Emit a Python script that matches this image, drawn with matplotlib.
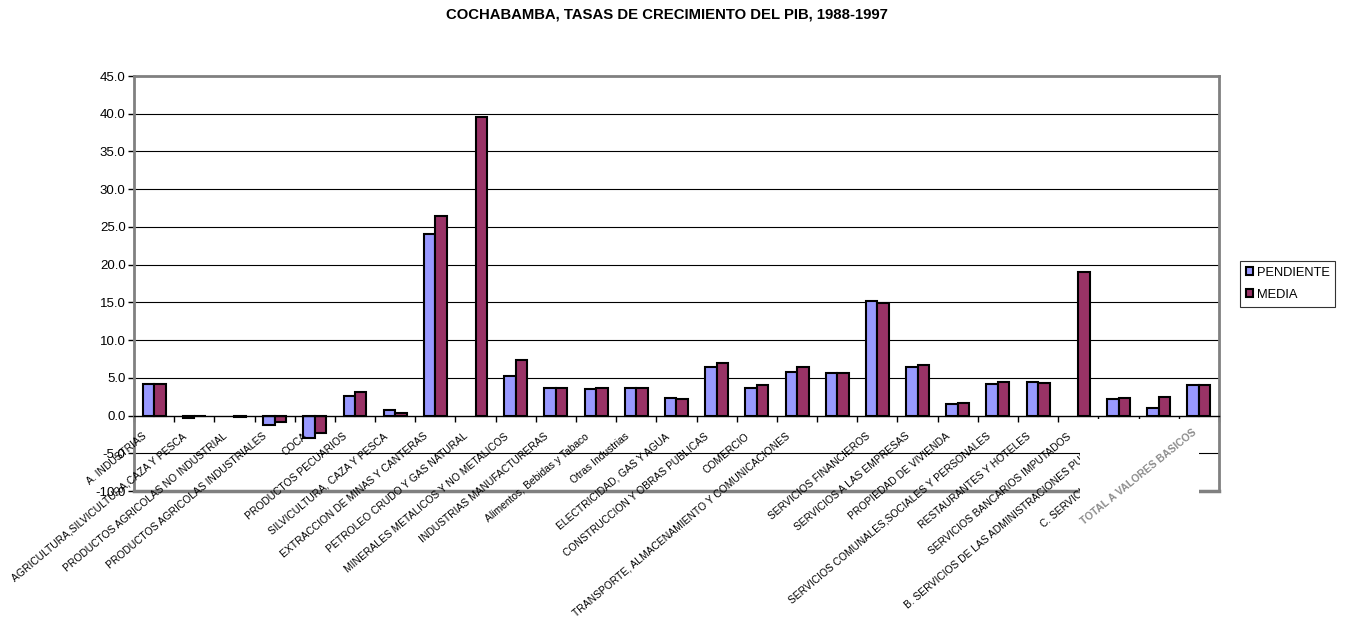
import matplotlib
matplotlib.use("Agg")
import matplotlib.pyplot as plt
from matplotlib.patches import Rectangle, Patch
import numpy as np

plt.rcParams['font.family'] = ['Liberation Sans', 'DejaVu Sans']

# Sectors (x categories); one category has no label in the source
categorias = [
    "A. INDUSTRIAS",
    "AGRICULTURA,SILVICULTURA,CAZA Y PESCA",
    "PRODUCTOS AGRICOLAS NO INDUSTRIAL",
    "PRODUCTOS AGRICOLAS INDUSTRIALES",
    "COCA",
    "PRODUCTOS PECUARIOS",
    "SILVICULTURA, CAZA Y PESCA",
    "EXTRACCION DE MINAS Y CANTERAS",
    "PETROLEO CRUDO Y GAS NATURAL",
    "MINERALES METALICOS Y NO METALICOS",
    "INDUSTRIAS MANUFACTURERAS",
    "Alimentos, Bebidas y Tabaco",
    "Otras Industrias",
    "ELECTRICIDAD, GAS Y AGUA",
    "CONSTRUCCION Y OBRAS PUBLICAS",
    "COMERCIO",
    "TRANSPORTE, ALMACENAMIENTO Y COMUNICACIONES",
    "",
    "SERVICIOS FINANCIEROS",
    "SERVICIOS A LAS EMPRESAS",
    "PROPIEDAD DE VIVIENDA",
    "SERVICIOS COMUNALES,SOCIALES Y PERSONALES",
    "RESTAURANTES Y HOTELES",
    "SERVICIOS BANCARIOS IMPUTADOS",
    "B. SERVICIOS DE LAS ADMINISTRACIONES PUBLICAS",
    "C. SERVICIOS DOMESTICOS",
    "TOTAL A VALORES BASICOS",
]

# growth rates
pendiente = [4.2, -0.3, np.nan, -1.2, -3.0, 2.6, 0.8, 24.0, np.nan, 5.2,
             3.6, 3.5, 3.7, 2.3, 6.5, 3.6, 5.8, 5.7, 15.2, 6.5,
             1.5, 4.2, 4.5, np.nan, 2.2, 1.0, 4.1]
media = [4.2, -0.1, -0.2, -0.8, -2.3, 3.1, 0.4, 26.5, 39.6, 7.3,
         3.6, 3.6, 3.7, 2.2, 6.9, 4.1, 6.4, 5.6, 14.9, 6.7,
         1.7, 4.4, 4.3, 19.0, 2.3, 2.4, 4.0]

series = ["PENDIENTE", "MEDIA"]
colores = ["#9999FF", "#993366"]

fig = plt.figure(figsize=(13.52, 6.18), dpi=100)
ax = fig.add_axes([0.0991, 0.2055, 0.8025, 0.6715])

x = np.arange(len(categorias))
w = 0.286
ax.bar(x - w / 2, pendiente, w, color=colores[0], edgecolor="black", linewidth=1.5, zorder=3)
ax.bar(x + w / 2, media, w, color=colores[1], edgecolor="black", linewidth=1.5, zorder=3)

ax.set_xlim(-0.5, len(categorias) - 0.5)
ax.set_ylim(-10, 45)
ax.set_yticks(np.arange(-10, 46, 5))
ax.set_yticklabels([f"{v:.1f}" for v in np.arange(-10, 46, 5)], fontsize=9.5)
ax.tick_params(axis="y", direction="out", length=4, width=1, color="black", pad=2)

for v in np.arange(-5, 45, 5):
    if v != 0:
        ax.axhline(v, color="black", linewidth=0.8, zorder=1)

# frame
for s in ["top", "right", "left"]:
    ax.spines[s].set_color("#808080")
    ax.spines[s].set_linewidth(2)
ax.spines["bottom"].set_position(("data", 0))
ax.spines["bottom"].set_color("black")
ax.spines["bottom"].set_linewidth(1)
ax.spines["bottom"].set_zorder(4)
ax.axhline(-10, color="#808080", linewidth=2.5, clip_on=False, zorder=2)

ax.set_xticks(np.arange(len(categorias) + 1) - 0.5)
ax.set_xticklabels([])
ax.tick_params(axis="x", direction="out", length=4, width=1, color="black")

for i, lab in enumerate(categorias[:-1]):
    ax.annotate(lab, xy=(i - 0.22, 0), xytext=(0, -14), textcoords="offset points",
                rotation=40, rotation_mode="anchor", ha="right", va="center",
                fontsize=7.35, annotation_clip=False, zorder=5)

# last label is a pasted picture that hides the neighbouring labels
ax.add_patch(Rectangle((23.04, -0.5), 2.96, -16, facecolor="white", edgecolor="none",
                       clip_on=False, zorder=6))
ax.text(24.5, -8.1, categorias[-1], rotation=39, ha="center", va="center",
        fontsize=7.5, fontweight="bold", color="#8c8c8c", zorder=7)

fig.text(0.4935, 0.976, "COCHABAMBA, TASAS DE CRECIMIENTO DEL PIB, 1988-1997",
         ha="center", va="center", fontsize=10.7, fontweight="bold")

handles = [Patch(facecolor=c, edgecolor="black", linewidth=1.5) for c in colores]
leg = fig.legend(handles, series, loc="upper left", bbox_to_anchor=(0.917, 0.578),
                 fontsize=9.3, frameon=True, fancybox=False, handlelength=0.6,
                 handleheight=0.6, handletextpad=0.25, borderpad=0.45, labelspacing=0.8,
                 borderaxespad=0)
leg.get_frame().set_edgecolor("black")
leg.get_frame().set_linewidth(0.8)

fig.savefig("out.png", dpi=100)
